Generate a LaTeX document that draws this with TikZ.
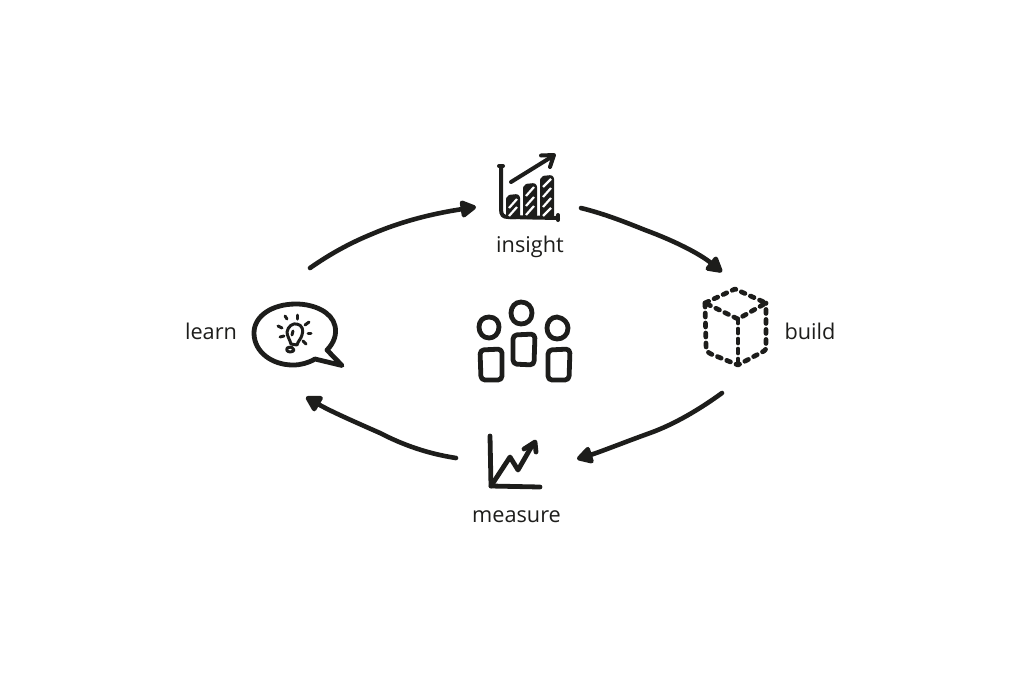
\documentclass[tikz,border=0pt]{standalone}
\usepackage{fontspec}
\setmainfont{Open Sans}
\usetikzlibrary{arrows.meta}
\definecolor{ink}{HTML}{1D1D1B}
\tikzset{
  ink/.style={draw=ink,line cap=round,line join=round},
  thick ink/.style={ink,line width=4.8pt},
  mid ink/.style={ink,line width=4pt},
  fine ink/.style={ink,line width=3pt},
  flow/.style={ink,line width=4.6pt,-{Triangle[length=18pt 0 0,width=19pt 0 0,fill=ink,round]}},
  dashcube/.style={ink,line width=4.7pt,line cap=round,dash pattern=on 4pt off 6pt},
  slash/.style={draw=white,line width=2.2pt,line cap=butt},
  caption/.style={text=ink,font=\fontsize{21.7}{24}\selectfont,inner sep=0pt}
}
\begin{document}
\begin{tikzpicture}[x=1pt,y=-1pt]
\useasboundingbox (0,0) rectangle (1022,681);
% labels
\node[caption] (insight) at (530,247) {insight};
\node[caption] (learn) at (211,331) {learn};
\node[caption] (build) at (810,331) {build};
\node[caption] (measure) at (516.5,517) {measure};
% connector ends
\coordinate (a1) at (310,268); \coordinate (a2) at (476,207);
\coordinate (b1) at (581,208); \coordinate (b2) at (722,272);
\coordinate (c1) at (722,393); \coordinate (c2) at (577,459);
\coordinate (d1) at (456,458); \coordinate (d2) at (306,397);
\draw[flow] (a1) .. controls (330,254) and (350,243) .. (372,234) .. controls (400,222) and (430,214) .. (a2);
\draw[flow] (b1) .. controls (605,214) and (625,222) .. (645,230) .. controls (675,241) and (700,254) .. (b2);
\draw[flow] (c1) .. controls (700,409) and (675,424) .. (650,433) .. controls (625,442) and (600,452) .. (c2);
\draw[flow] (d1) .. controls (430,454) and (405,446) .. (380,433) .. controls (355,422) and (330,411) .. (d2);
% insight icon
\draw[mid ink] (499,166) -- (503,166);
\draw[mid ink] (501,166) -- (501,209) .. controls (501,215) and (503,217) .. (508,217) -- (558,218);
\draw[mid ink] (558,215) -- (558,220);
\draw[mid ink,fill=ink,rounded corners=2pt] (508,217) -- (508,197) -- (518,196) -- (518,217) -- cycle;
\draw[mid ink,fill=ink,rounded corners=2pt] (525,217) -- (525,186) -- (535,185) -- (535,217) -- cycle;
\draw[mid ink,fill=ink,rounded corners=2pt] (542,217) -- (542,178) -- (552,177) -- (552,217) -- cycle;
\foreach \xa/\ya/\xb/\yb in {509/208/517/199,509/216/517/207,
  526/196/534/187,526/206/534/197,526/215/534/206,
  543/187/551/179,543/197/551/188,543/207/551/198,543/216/551/208}
  \draw[slash] (\xa,\ya) -- (\xb,\yb);
\draw[mid ink] (511,182) -- (553,156);
\draw[mid ink] (541,155.5) -- (554,155) -- (550,167);
% learn icon
\draw[thick ink] (327,350) .. controls (334,343) and (337,334) .. (335,326)
  .. controls (332,312) and (314,304) .. (296,304)
  .. controls (272,304) and (254,316) .. (254,333)
  .. controls (254,352) and (272,365) .. (293,365)
  .. controls (301,365) and (308,363) .. (315,359)
  -- (342,365.5) -- cycle;
\draw[fine ink] (291,344) .. controls (290,340) and (287,336) .. (287,332)
  .. controls (288,326) and (293,323) .. (297,324)
  .. controls (302,325) and (304,330) .. (302,335)
  .. controls (301,339) and (298,341) .. (297,345) -- cycle;
\draw[fine ink] (288,347.5) .. controls (291,346.5) and (294,348) .. (294,350)
  .. controls (293,352.5) and (288,352.5) .. (287,350.5) .. controls (286.5,349) and (287,348) .. (288,347.5);
\draw[fine ink] (293,331) -- (292,335);
\foreach \xa/\ya/\xb/\yb in {285/316/287/319,297/315/297/319,309/322/305/325,311/333/308/333,306/344/303/341,278/326/282/328,280/337/284/336}
  \draw[fine ink] (\xa,\ya) -- (\xb,\yb);
% build icon
\draw[dashcube] (705,303) -- (735,289) -- (766,303) -- (738,319) -- cycle;
\draw[dashcube] (705,303) -- (706,345) .. controls (706,350) and (707,352) .. (711,354) -- (738,365) -- (764,351) .. controls (766,350) and (766,349) .. (766,345) -- (766,303);
\draw[dashcube] (738,319) -- (738,365);
% team icon
\draw[thick ink] (489,317) .. controls (496,317) and (499,322) .. (499,327) .. controls (499,334) and (494,338) .. (489,338) .. controls (483,338) and (479,333) .. (479,327) .. controls (479,321) and (483,317) .. (489,317) -- cycle;
\draw[thick ink] (521,302) .. controls (528,302) and (532,307) .. (532,313) .. controls (532,320) and (527,324) .. (521,324) .. controls (515,324) and (511,319) .. (511,313) .. controls (511,307) and (515,302) .. (521,302) -- cycle;
\draw[thick ink] (557,317) .. controls (564,318) and (568,323) .. (568,328) .. controls (568,335) and (563,339) .. (557,339) .. controls (551,339) and (547,334) .. (547,328) .. controls (547,322) and (551,317) .. (557,317) -- cycle;
\draw[thick ink,rounded corners=4pt] (480,350) -- (502,349) -- (502,380) -- (481,380) -- cycle;
\draw[thick ink,rounded corners=4pt] (513,335) -- (535,334) -- (534,365) -- (513,364) -- cycle;
\draw[thick ink,rounded corners=4pt] (548,350) -- (570,349) -- (569,380) -- (548,380) -- cycle;
% measure icon
\draw[thick ink] (490,436) -- (491,486) -- (540,487);
\draw[thick ink] (491,486) -- (510,457) -- (518,470) -- (533,444);
\draw[thick ink] (524,449) -- (535,442) -- (536,452);
\end{tikzpicture}
\end{document}
